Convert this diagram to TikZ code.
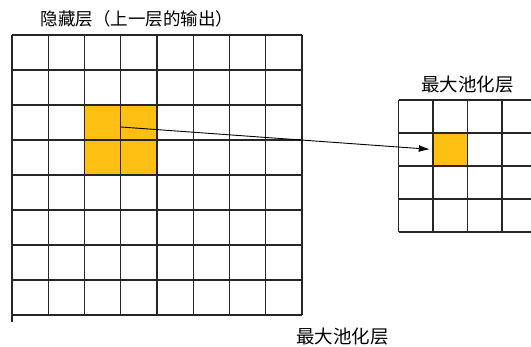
\documentclass[tikz,border=0pt]{standalone}
\usepackage{fontspec}
\newfontfamily\cjk{Noto Sans CJK SC}
\usetikzlibrary{arrows.meta}
\definecolor{cellorange}{RGB}{252,191,18}
\begin{document}
\begin{tikzpicture}[x=1pt,y=-1pt,
  gridline/.style={line width=1.1pt, draw=black!85},
  lbl/.style={font=\cjk\fontsize{18.5}{20}\selectfont, inner sep=0pt},
  hot/.style={fill=cellorange, draw=none, inner sep=0pt}]
\useasboundingbox (0,0) rectangle (531,346);
\begin{scope}
\clip (0,0) rectangle (531,346);
% highlighted cells
\node[hot, minimum width=72.5pt, minimum height=70pt] (block) at (120.75,140) {};
\node[hot, minimum width=34.5pt, minimum height=33pt] (tgt) at (450.25,149.5) {};
% left 8x8 grid
\foreach \i in {0,...,8} \draw[gridline] ({12+36.25*\i},35) -- ({12+36.25*\i},315);
\foreach \j in {0,...,8} \draw[gridline] (12,{35+35*\j}) -- (302,{35+35*\j});
\draw[gridline] (12,315) -- (12,322);
% right 4x4 grid (cut at the page edge)
\foreach \i in {0,...,4} \draw[gridline] ({398.5+34.5*\i},100) -- ({398.5+34.5*\i},232);
\foreach \j in {0,...,4} \draw[gridline] (398.5,{100+33*\j}) -- (540,{100+33*\j});
\end{scope}
% labels
\node[lbl, font=\cjk\fontsize{17.5}{20}\selectfont] (title) at (137,19) {隐藏层（上一层的输出）};
\node[lbl] (pooltop) at (467.5,85) {最大池化层};
\node[lbl] (poolbot) at (342.5,337) {最大池化层};
% arrow
\coordinate (src) at (121,127);
\draw[-{Latex[length=11pt,width=7pt]}, line width=0.9pt, shorten >=3pt] (src) -- (tgt.west);
\end{tikzpicture}
\end{document}
